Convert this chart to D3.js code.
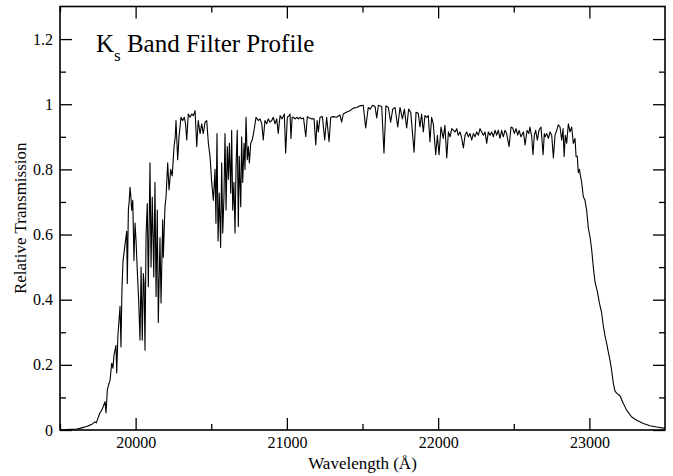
<!DOCTYPE html>
<html><head><meta charset="utf-8">
<script src="https://cdn.jsdelivr.net/npm/d3@7"></script>
<style>
body{margin:0;background:#fff}
svg{display:block}
svg text{font-family:"Liberation Serif","Times New Roman",Times,"Nimbus Roman","DejaVu Serif",serif !important;fill:#000}
</style>
</head><body>
<svg id="chart" width="673" height="476"></svg>
<script>
// ---- data ----
const wavelength = [
19500,19540,19580,19610,19632,19654,19676,19698,19712,19731,
19740,19750,19764,19775,19786,19798,19804,19813,19822,19831,
19842,19850,19857,19870,19875,19883,19897,19903,19910,19917,
19930,19941,19945,19952,19957,19963,19968,19974,19981,19989,
19996,20003,20010,20020,20029,20036,20044,20051,20056,20062,
20069,20077,20084,20095,20102,20110,20120,20128,20135,20143,
20150,20161,20168,20179,20183,20194,20201,20212,20221,20232,
20242,20254,20262,20267,20278,20287,20300,20311,20322,20330,
20338,20348,20360,20371,20382,20393,20404,20414,20426,20437,
20447,20459,20470,20481,20492,20503,20514,20525,20531,20538,
20545,20553,20562,20569,20576,20584,20591,20598,20606,20613,
20620,20629,20635,20642,20650,20657,20664,20672,20679,20685,
20695,20701,20708,20717,20723,20730,20738,20745,20752,20761,
20771,20783,20796,20811,20822,20834,20844,20855,20866,20877,
20888,20900,20910,20922,20933,20943,20955,20968,20983,20992,
21003,21015,21021,21027,21035,21043,21055,21065,21077,21087,
21098,21110,21125,21135,21150,21165,21180,21191,21200,21208,
21219,21235,21250,21263,21279,21290,21307,21329,21351,21362,
21373,21396,21417,21439,21462,21483,21505,21521,21538,21550,
21567,21583,21594,21605,21627,21642,21655,21671,21686,21700,
21715,21733,21748,21764,21777,21792,21805,21819,21841,21854,
21869,21880,21891,21902,21913,21925,21935,21946,21957,21968,
21984,21995,22006,22019,22034,22045,22057,22068,22079,22090,
22112,22123,22133,22145,22156,22167,22178,22189,22200,22211,
22222,22233,22244,22255,22266,22277,22288,22299,22310,22321,
22332,22343,22354,22365,22376,22387,22398,22409,22420,22431,
22442,22453,22469,22482,22493,22504,22515,22526,22535,22548,
22564,22575,22588,22599,22607,22619,22627,22636,22645,22656,
22667,22680,22694,22702,22707,22718,22729,22740,22751,22762,
22773,22784,22795,22806,22817,22826,22833,22841,22850,22861,
22872,22883,22894,22905,22912,22920,22927,22934,22941,22949,
22960,22971,22982,22993,23004,23015,23026,23037,23053,23066,
23081,23092,23103,23114,23125,23136,23147,23158,23169,23180,
23202,23224,23246,23280,23313,23357,23401,23445,23500
];
const transmission = [
0.000,0.001,0.002,0.003,0.005,0.008,0.011,0.015,0.018,0.025,
0.022,0.035,0.052,0.060,0.072,0.087,0.052,0.123,0.140,0.153,
0.205,0.190,0.230,0.260,0.175,0.290,0.380,0.255,0.440,0.520,
0.570,0.610,0.450,0.675,0.700,0.745,0.720,0.675,0.705,0.520,
0.635,0.580,0.500,0.400,0.276,0.500,0.276,0.480,0.450,0.245,
0.600,0.695,0.440,0.820,0.500,0.715,0.470,0.760,0.410,0.675,
0.330,0.590,0.390,0.645,0.530,0.685,0.715,0.820,0.737,0.800,
0.780,0.870,0.900,0.950,0.830,0.900,0.960,0.950,0.960,0.940,
0.890,0.970,0.960,0.970,0.965,0.980,0.870,0.950,0.910,0.940,
0.910,0.945,0.950,0.880,0.840,0.760,0.705,0.800,0.635,0.910,
0.580,0.727,0.560,0.820,0.605,0.717,0.910,0.675,0.870,0.770,
0.880,0.727,0.920,0.675,0.760,0.605,0.810,0.920,0.625,0.840,
0.685,0.900,0.760,0.880,0.800,0.960,0.830,0.870,0.820,0.880,
0.890,0.920,0.960,0.950,0.955,0.940,0.890,0.950,0.940,0.955,
0.945,0.950,0.960,0.940,0.955,0.910,0.965,0.955,0.970,0.850,
0.960,0.965,0.970,0.895,0.960,0.960,0.955,0.960,0.955,0.960,
0.955,0.958,0.900,0.962,0.958,0.955,0.955,0.875,0.950,0.915,
0.960,0.962,0.890,0.960,0.885,0.960,0.962,0.960,0.967,0.945,
0.970,0.976,0.980,0.988,0.990,0.995,0.997,0.927,0.990,0.985,
0.997,0.993,0.958,0.997,0.993,0.850,0.995,0.990,0.945,0.985,
0.990,0.930,0.990,0.955,0.985,0.927,0.985,0.975,0.853,0.975,
0.972,0.930,0.970,0.915,0.965,0.960,0.965,0.885,0.960,0.940,
0.845,0.905,0.845,0.930,0.895,0.935,0.835,0.915,0.900,0.925,
0.915,0.925,0.905,0.915,0.895,0.866,0.905,0.915,0.900,0.910,
0.890,0.910,0.900,0.915,0.905,0.925,0.915,0.905,0.915,0.880,
0.915,0.905,0.915,0.900,0.920,0.905,0.920,0.895,0.920,0.900,
0.920,0.910,0.870,0.930,0.927,0.910,0.925,0.905,0.920,0.900,
0.915,0.875,0.920,0.910,0.930,0.900,0.845,0.905,0.920,0.890,
0.920,0.930,0.845,0.910,0.900,0.910,0.895,0.915,0.905,0.835,
0.905,0.920,0.937,0.930,0.890,0.925,0.840,0.905,0.880,0.940,
0.915,0.930,0.880,0.895,0.840,0.840,0.790,0.800,0.780,0.760,
0.716,0.705,0.675,0.620,0.594,0.555,0.500,0.455,0.425,0.390,
0.360,0.320,0.290,0.267,0.240,0.215,0.184,0.144,0.120,0.113,
0.105,0.082,0.061,0.040,0.030,0.020,0.013,0.009,0.005
];
const xMajorTicks = [20000, 21000, 22000, 23000];
const xMinorTicks = [19500, 20500, 21500, 22500];
const yMajorTicks = [0, 0.2, 0.4, 0.6, 0.8, 1, 1.2];
const yMinorTicks = [0.1, 0.3, 0.5, 0.7, 0.9, 1.1];
const xDomain = [19500, 23500];
const yDomain = [0, 1.3];
const titleMain = "K";
const titleSub = "s";
const titleRest = " Band Filter Profile";
const xTitle = "Wavelength (Å)";
const yTitle = "Relative Transmission";

// ---- layout ----
const FONT = '"Liberation Serif","Times New Roman",Times,"DejaVu Serif",serif';
const L = 60, R = 665, T = 6.5, B = 430;
const svg = d3.select("#chart");
const x = d3.scaleLinear().domain(xDomain).range([L, R]);
const y = d3.scaleLinear().domain(yDomain).range([B, T]);

const data = wavelength.map((w, i) => ({w, t: transmission[i]}));

function styleAxis(g) {
  g.attr("font-family", FONT);
  g.select(".domain").remove();
  g.selectAll(".tick line").attr("stroke", "#000").attr("stroke-width", 1.3);
  g.selectAll(".tick text").attr("font-size", 16).attr("fill", "#000");
}
const fmt = d => d3.format("~g")(d);

// bottom
svg.append("g").attr("transform", `translate(0,${B})`)
  .call(d3.axisBottom(x).tickValues(xMajorTicks).tickSize(-12).tickPadding(7).tickFormat(d3.format("d")))
  .call(styleAxis);
svg.append("g").attr("transform", `translate(0,${B})`)
  .call(d3.axisBottom(x).tickValues(xMinorTicks).tickSize(-6).tickFormat(""))
  .call(styleAxis);
// top
svg.append("g").attr("transform", `translate(0,${T})`)
  .call(d3.axisTop(x).tickValues(xMajorTicks).tickSize(-12).tickFormat(""))
  .call(styleAxis);
svg.append("g").attr("transform", `translate(0,${T})`)
  .call(d3.axisTop(x).tickValues(xMinorTicks).tickSize(-6).tickFormat(""))
  .call(styleAxis);
// left
svg.append("g").attr("transform", `translate(${L},0)`)
  .call(d3.axisLeft(y).tickValues(yMajorTicks).tickSize(-12).tickPadding(7).tickFormat(fmt))
  .call(styleAxis);
svg.append("g").attr("transform", `translate(${L},0)`)
  .call(d3.axisLeft(y).tickValues(yMinorTicks).tickSize(-6).tickFormat(""))
  .call(styleAxis);
// right
svg.append("g").attr("transform", `translate(${R},0)`)
  .call(d3.axisRight(y).tickValues(yMajorTicks).tickSize(-12).tickFormat(""))
  .call(styleAxis);
svg.append("g").attr("transform", `translate(${R},0)`)
  .call(d3.axisRight(y).tickValues(yMinorTicks).tickSize(-6).tickFormat(""))
  .call(styleAxis);

// curve
svg.append("path")
  .datum(data)
  .attr("fill", "none")
  .attr("stroke", "#000")
  .attr("stroke-width", 1.1)
  .attr("stroke-linejoin", "round")
  .attr("d", d3.line().x(d => x(d.w)).y(d => y(d.t)));

// frame
svg.append("rect")
  .attr("x", L).attr("y", T).attr("width", R - L).attr("height", B - T)
  .attr("fill", "none").attr("stroke", "#000").attr("stroke-width", 1.6);

// titles
const title = svg.append("text").attr("x", 96).attr("y", 52).attr("font-size", 25).attr("font-family", FONT);
title.append("tspan").text(titleMain);
title.append("tspan").attr("font-size", 17).attr("dy", 9).text(titleSub);
title.append("tspan").attr("dy", -9).text(titleRest);

svg.append("text")
  .attr("x", (L + R) / 2).attr("y", 469)
  .attr("text-anchor", "middle").attr("font-size", 17).attr("font-family", FONT)
  .text(xTitle);

svg.append("text")
  .attr("transform", `translate(26,${(T + B) / 2}) rotate(-90)`)
  .attr("text-anchor", "middle").attr("font-size", 17).attr("font-family", FONT)
  .text(yTitle);
</script>
</body></html>
